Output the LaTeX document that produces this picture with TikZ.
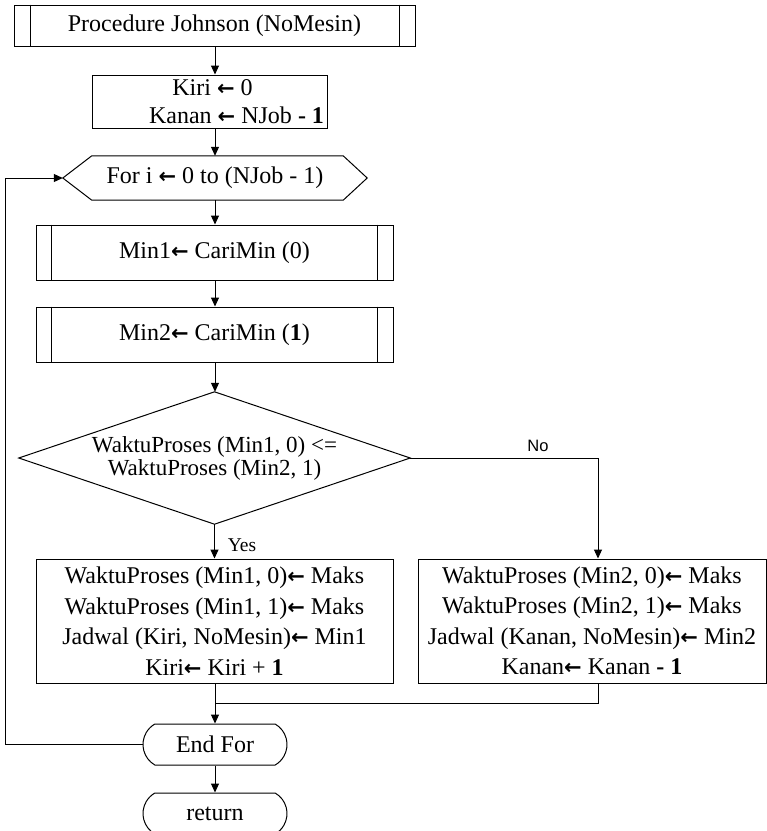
\documentclass[tikz,border=0pt]{standalone}
\usepackage{fontspec}
\setmainfont{Liberation Serif}
\newfontfamily\arialf{Liberation Sans}
\newfontfamily\arrowfont{DejaVu Sans}
\usetikzlibrary{arrows.meta,shapes.misc}
\newcommand\myarr{{\arrowfont\bfseries\fontsize{21}{21}\selectfont ←}}
\begin{document}
\begin{tikzpicture}[x=1pt,y=-1pt,
  every node/.style={font=\fontsize{24}{30.5}\selectfont, inner sep=0pt, align=center},
  box/.style={draw, line width=1pt, rectangle},
  term/.style={draw, line width=1pt, rounded rectangle, rounded rectangle arc length=120,
    minimum width=144pt, minimum height=41pt},
  ln/.style={line width=1pt},
  arr/.style={line width=1pt, -{Triangle[length=9pt,width=8pt]}},
  lbl/.style={font=\fontsize{19.5}{20}\selectfont},
  nolblst/.style={font=\arialf\fontsize{16.5}{18}\selectfont}]
\useasboundingbox (0,0) rectangle (767,831);

% Procedure box
\node[box, minimum width=401pt, minimum height=41pt] (proc) at (214.5,25.5) {Procedure Johnson (NoMesin)};
\draw[ln] ([xshift=17pt]proc.north west) -- ([xshift=17pt]proc.south west);
\draw[ln] ([xshift=-16pt]proc.north east) -- ([xshift=-16pt]proc.south east);

% Init box
\node[box, minimum width=235pt, minimum height=53pt,
  font=\fontsize{24}{28}\selectfont] (init) at (209.5,101.5)
  {\makebox[229pt][c]{\hspace*{6pt}Kiri \myarr{} 0}\\\makebox[229pt][r]{Kanan \myarr{} NJob \textbf{- 1}}};

% For hexagon
\node[minimum width=304pt, minimum height=44pt] (for) at (215,178) {For i \myarr{} 0 to (NJob - 1)};
\draw[ln] (for.west) -- ([xshift=29pt]for.north west) -- ([xshift=-24pt]for.north east)
  -- (for.east) -- ([xshift=-24pt]for.south east) -- ([xshift=29pt]for.south west) -- cycle;

% Min1 / Min2
\node[box, minimum width=357pt, minimum height=55pt] (min1) at (214.5,252.5) {Min1\myarr{} CariMin (0)};
\draw[ln] ([xshift=16pt]min1.north west) -- ([xshift=16pt]min1.south west);
\draw[ln] ([xshift=-16pt]min1.north east) -- ([xshift=-16pt]min1.south east);
\node[box, minimum width=357pt, minimum height=55pt] (min2) at (214.5,334.5) {Min2\myarr{} CariMin (\textbf{1})};
\draw[ln] ([xshift=16pt]min2.north west) -- ([xshift=16pt]min2.south west);
\draw[ln] ([xshift=-16pt]min2.north east) -- ([xshift=-16pt]min2.south east);

% Decision
\node[minimum width=391pt, minimum height=132pt, font=\fontsize{23}{23}\selectfont] (dec) at (214.5,458)
  {WaktuProses (Min1, 0) <=\\WaktuProses (Min2, 1)};
\draw[ln] (dec.west) -- (dec.north) -- (dec.east) -- (dec.south) -- cycle;

% Branch boxes
\node[box, minimum width=357pt, minimum height=124pt] (left) at (214.5,621)
  {WaktuProses (Min1, 0)\myarr{} Maks\\WaktuProses (Min1, 1)\myarr{} Maks\\Jadwal (Kiri, NoMesin)\myarr{} Min1\\Kiri\myarr{} Kiri + \textbf{1}};
\node[box, minimum width=348pt, minimum height=124pt] (right) at (592,621)
  {WaktuProses (Min2, 0)\myarr{} Maks\\WaktuProses (Min2, 1)\myarr{} Maks\\Jadwal (Kanan, NoMesin)\myarr{} Min2\\Kanan\myarr{} Kanan \textbf{- 1}};

% Terminators
\node[term] (endfor) at (215,744.5) {End For};
\node[term] (ret) at (215,813.5) {return};

% Helper coordinates
\coordinate (nocorner) at (598,458);
\coordinate (merge) at (215,703);
\coordinate (loopb) at (5,744.5);
\coordinate (loopt) at (5,178);

% Labels
\node[lbl] (yeslbl) at (242,545) {Yes};
\node[nolblst] (nolbl) at (538,446) {No};

% Connectors
\draw[arr] (proc.south -| for.north) -- (init.north -| for.north);
\draw[arr] (init.south -| for.north) -- (for.north);
\draw[arr] (for.south) -- (min1.north -| for.south);
\draw[arr] (min1.south -| for.south) -- (min2.north -| for.south);
\draw[arr] (min2.south -| for.south) -- (dec.north -| for.south);
\draw[arr] (dec.south) -- (left.north -| dec.south);
\draw[ln] (dec.east) -- (nocorner);
\draw[arr] (nocorner) -- (nocorner |- right.north);
\draw[ln] (nocorner |- right.south) -- (nocorner |- merge) -- (merge);
\draw[arr] (left.south -| endfor.north) -- (endfor.north);
\draw[arr] (endfor.south) -- (ret.north);
\draw[arr] (endfor.west) -- (loopb) -- (loopt) -- (for.west);
\end{tikzpicture}
\end{document}
